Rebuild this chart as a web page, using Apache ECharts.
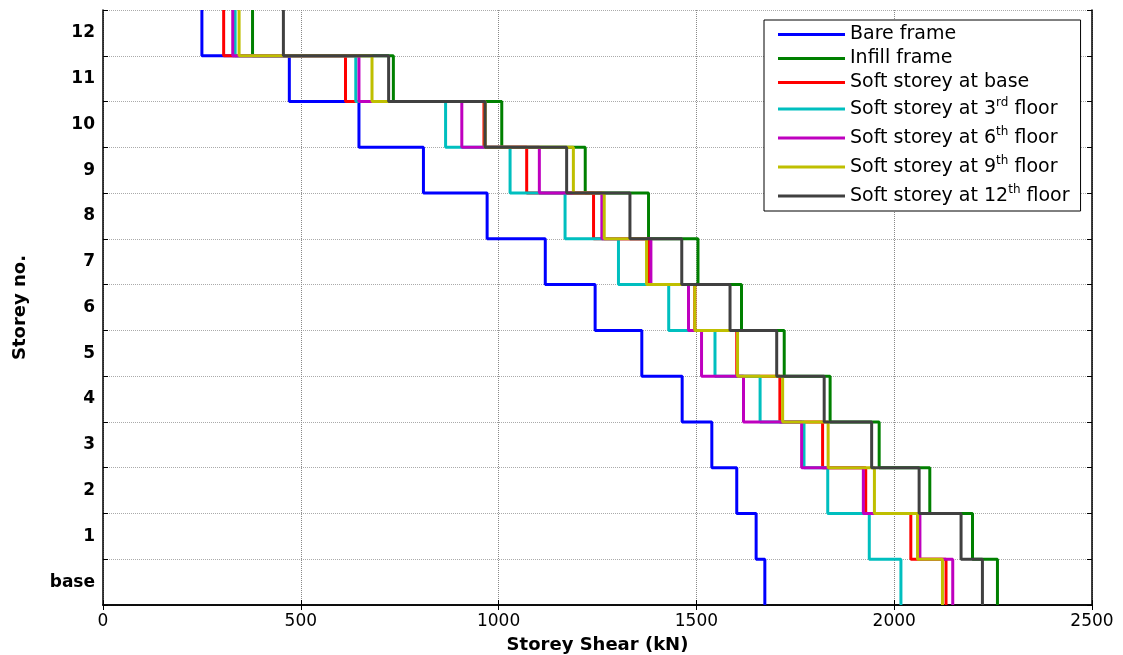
<!DOCTYPE html>
<html><head><meta charset="utf-8">
<script src="https://cdn.jsdelivr.net/npm/echarts@6/dist/echarts.min.js"></script>
<style>html,body{margin:0;padding:0;background:#fff}#c{width:1123px;height:655px}</style>
</head><body><div id="c"></div>
<script>
// Storey bands, bottom to top
const storeys = ['base','1','2','3','4','5','6','7','8','9','10','11','12'];
const xTicks = [0, 500, 1000, 1500, 2000, 2500];
const seriesNames = ['Bare frame','Infill frame','Soft storey at base','Soft storey at 3rd floor','Soft storey at 6th floor','Soft storey at 9th floor','Soft storey at 12th floor'];
const seriesColors = ['#0000ff','#008000','#ff0000','#00bfbf','#bf00bf','#bfbf00','#404040'];
// Storey shear (kN) for base,1..12
const bareFrame   = [1673,1651,1602,1539,1464,1362,1244,1118,971,810,647,471,250];
const infillFrame = [2261,2198,2090,1962,1838,1722,1614,1504,1379,1219,1008,734,378];
const softBase    = [2131,2042,1928,1819,1711,1602,1496,1379,1240,1071,963,613,305];
const soft3rd     = [2017,1937,1832,1772,1661,1547,1430,1303,1168,1029,866,639,334];
const soft6th     = [2148,2065,1922,1766,1619,1513,1480,1385,1261,1103,907,647,328];
const soft9th     = [2122,2059,1950,1833,1718,1604,1496,1374,1267,1189,966,680,344];
const soft12th    = [2223,2169,2063,1943,1823,1703,1585,1463,1332,1172,966,722,456];
const allValues = [bareFrame, infillFrame, softBase, soft3rd, soft6th, soft9th, soft12th];

function stairs(vals){
  const pts = [];
  vals.forEach((v,i)=>{ pts.push([v,i]); pts.push([v,i+1]); });
  return pts;
}
const FONT = 'DejaVu Sans';
const xMin = xTicks[0], xMax = xTicks[xTicks.length-1], xInt = xTicks[1]-xTicks[0];

const chart = echarts.init(document.getElementById('c'), null, {renderer:'canvas'});
chart.setOption({
  animation:false,
  backgroundColor:'#fff',
  grid:{left:103,right:31,top:10,bottom:50,containLabel:false,outerBoundsMode:'none'},
  legend:{
    orient:'vertical', left:764, top:20,
    backgroundColor:'#fff', borderColor:'#000', borderWidth:1,
    padding:[5,11,3,14], itemGap:5,
    icon:'rect', itemWidth:67, itemHeight:3,
    data:seriesNames,
    formatter:function(name){
      const m = name.match(/^(.*?\d+)(st|nd|rd|th)(.*)$/);
      if(m) return '{n|'+m[1]+'}{s|'+m[2]+'}{n|'+m[3]+'}{p|}';
      return '{n|'+name+'}{p|}';
    },
    textStyle:{
      rich:{
        n:{fontFamily:FONT,fontSize:19,color:'#000'},
        s:{fontFamily:FONT,fontSize:12,lineHeight:12,padding:[0,0,12,0],color:'#000'},
        p:{width:8,fontSize:19}
      }
    }
  },
  xAxis:[{
    type:'value', min:xMin, max:xMax, interval:xInt, position:'bottom',
    name:'Storey Shear (kN)', nameLocation:'middle', nameGap:31,
    nameTextStyle:{fontFamily:FONT,fontSize:18,fontWeight:'bold',color:'#000'},
    axisLine:{show:true,lineStyle:{color:'#000',width:1.5}},
    axisTick:{show:true,inside:true,length:5,lineStyle:{color:'#000'}},
    axisLabel:{fontFamily:FONT,fontSize:17,color:'#000',margin:8,formatter:v=>String(v)},
    splitLine:{show:true,lineStyle:{color:'#888',type:'dotted',width:1}}
  },{
    type:'value', min:xMin, max:xMax, interval:xInt, position:'top',
    axisLine:{show:true,lineStyle:{color:'#000',width:1.5}},
    axisTick:{show:true,inside:true,length:5,lineStyle:{color:'#000'}},
    axisLabel:{show:false}, splitLine:{show:false}
  }],
  yAxis:[{
    type:'value', min:0, max:storeys.length, interval:1, position:'left',
    name:'Storey no.', nameLocation:'middle', nameGap:74, nameRotate:90,
    nameTextStyle:{fontFamily:FONT,fontSize:18,fontWeight:'bold',color:'#000'},
    axisLine:{show:true,lineStyle:{color:'#000',width:1.5}},
    axisTick:{show:true,inside:true,length:5,lineStyle:{color:'#000'}},
    axisLabel:{show:false},
    splitLine:{show:true,lineStyle:{color:'#aaa',type:'dotted',width:1}}
  },{
    type:'category', data:storeys, position:'left', boundaryGap:true,
    axisLine:{show:false}, axisTick:{show:false}, splitLine:{show:false},
    axisLabel:{fontFamily:FONT,fontSize:17,fontWeight:'bold',color:'#000',margin:8}
  },{
    type:'value', min:0, max:storeys.length, interval:1, position:'right',
    axisLine:{show:true,lineStyle:{color:'#000',width:1.5}},
    axisTick:{show:true,inside:true,length:5,lineStyle:{color:'#000'}},
    axisLabel:{show:false}, splitLine:{show:false}
  }],
  series: seriesNames.map((nm,k)=>({
    name:nm, type:'line', xAxisIndex:0, yAxisIndex:0,
    data: stairs(allValues[k]),
    showSymbol:false, symbol:'none',
    lineStyle:{color:seriesColors[k],width:3},
    itemStyle:{color:seriesColors[k]},
    emphasis:{disabled:true}
  }))
});
</script></body></html>
